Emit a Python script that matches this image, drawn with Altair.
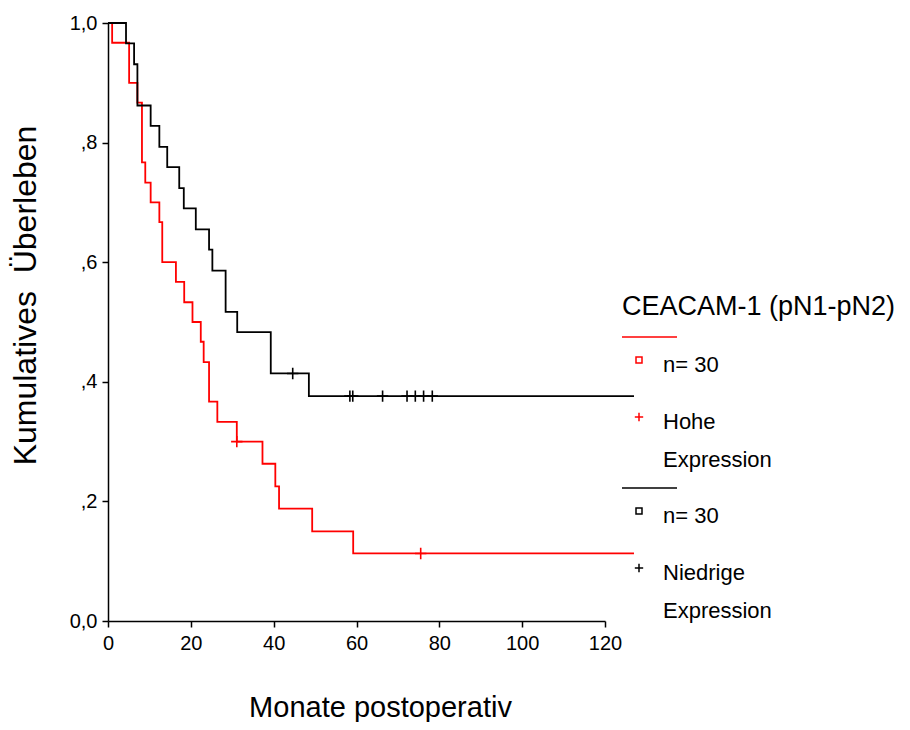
import altair as alt
import pandas as pd

# ---- data ----
groups = ["Hohe Expression", "Niedrige Expression"]
colors = ["#ff0000", "#000000"]

hohe_time = [0, 1.0, 5.1, 7.1, 8.2, 9.0, 10.3, 12.4, 13.1, 16.4, 18.4, 20.4, 22.4,
             23.1, 24.4, 26.4, 31.1, 37.3, 40.4, 41.3, 49.3, 59.2, 127]
hohe_surv = [1.0, 0.967, 0.900, 0.867, 0.767, 0.733, 0.700, 0.667, 0.600, 0.567, 0.533,
             0.500, 0.467, 0.433, 0.367, 0.333, 0.300, 0.263, 0.225, 0.188, 0.150,
             0.113, 0.113]
niedrig_time = [0, 4.35, 6.3, 7.1, 10.3, 12.4, 14.3, 17.2, 18.3, 21.2, 24.4, 25.2,
                28.4, 31.2, 39.3, 48.5, 127]
niedrig_surv = [1.0, 0.966, 0.931, 0.862, 0.828, 0.793, 0.759, 0.724, 0.690, 0.655,
                0.621, 0.586, 0.517, 0.483, 0.414, 0.376, 0.376]

hohe_cens_time = [31.1, 75.5]
hohe_cens_surv = [0.300, 0.113]
niedrig_cens_time = [44.6, 58.4, 59.1, 66.3, 72.2, 74.2, 76.2, 78.3]
niedrig_cens_surv = [0.414, 0.376, 0.376, 0.376, 0.376, 0.376, 0.376, 0.376]

x_ticks = [0, 20, 40, 60, 80, 100, 120]
y_ticks = [0.0, 0.2, 0.4, 0.6, 0.8, 1.0]

legend_title = "CEACAM-1 (pN1-pN2)"
legend_n = ["n= 30", "n= 30"]
legend_names = [["Hohe", "Expression"], ["Niedrige", "Expression"]]

FONT = "Liberation Sans"

# ---- tables ----
curves = pd.concat([
    pd.DataFrame({"group": groups[0], "time": hohe_time, "surv": hohe_surv}),
    pd.DataFrame({"group": groups[1], "time": niedrig_time, "surv": niedrig_surv}),
])
cens = pd.concat([
    pd.DataFrame({"group": groups[0], "time": hohe_cens_time, "surv": hohe_cens_surv}),
    pd.DataFrame({"group": groups[1], "time": niedrig_cens_time, "surv": niedrig_cens_surv}),
])

color = alt.Color("group:N", scale=alt.Scale(domain=groups, range=colors), legend=None)

x_enc = alt.X(
    "time:Q",
    scale=alt.Scale(domain=[0, 120], nice=False),
    axis=alt.Axis(
        values=x_ticks, title="Monate postoperativ", grid=False,
        tickSize=6, tickWidth=1.5, tickColor="black",
        domainColor="black", domainWidth=1.5,
        labelFont=FONT, labelFontSize=20, labelColor="black", labelPadding=6,
        labelFlush=False,
        titleFont=FONT, titleFontSize=29, titleFontWeight="normal", titleColor="black",
        titleX=272, titleY=86, titleAlign="center", titleBaseline="middle",
    ),
)
y_enc = alt.Y(
    "surv:Q",
    scale=alt.Scale(domain=[0, 1], nice=False),
    axis=alt.Axis(
        values=y_ticks, title="Kumulatives\u00a0 Überleben", grid=False,
        labelExpr="datum.value == 0 ? '0,0' : datum.value == 1 ? '1,0' : ',' + format(datum.value * 10, '.0f')",
        tickSize=6, tickWidth=1.5, tickColor="black",
        domainColor="black", domainWidth=1.5,
        labelFont=FONT, labelFontSize=20, labelColor="black", labelPadding=5,
        labelFlush=False,
        titleFont=FONT, titleFontSize=32, titleFontWeight="normal", titleColor="black",
        titleX=-83, titleY=272, titleAngle=270, titleAlign="center", titleBaseline="middle",
    ),
)

lines = alt.Chart(curves).mark_line(interpolate="step-after", strokeWidth=1.8).encode(
    x=x_enc, y=y_enc, color=color
)
marks = alt.Chart(cens).mark_point(
    shape="M0,-1L0,1M-1,0L1,0", filled=False, size=130, strokeWidth=1.6, opacity=1
).encode(x="time:Q", y="surv:Q", color=color)

# ---- custom legend (layout in pixels, right of plot) ----
LX = 514
leg_layers = [
    alt.Chart(pd.DataFrame({"t": [legend_title]})).mark_text(
        align="left", baseline="middle", font=FONT, fontSize=27, color="black"
    ).encode(text="t:N", x=alt.value(LX), y=alt.value(284)),
]
block_y = [314, 465]
for i, (g, c) in enumerate(zip(groups, colors)):
    y0 = block_y[i]
    leg_layers.append(
        alt.Chart(pd.DataFrame({"g": [g]})).mark_rule(color=c, strokeWidth=1.6).encode(
            x=alt.value(LX), x2=alt.value(LX + 55), y=alt.value(y0)
        )
    )
    leg_layers.append(
        alt.Chart(pd.DataFrame({"g": [g]})).mark_point(
            shape="square", filled=False, size=36, strokeWidth=1.5, color=c, opacity=1
        ).encode(x=alt.value(LX + 17), y=alt.value(y0 + 23))
    )
    leg_layers.append(
        alt.Chart(pd.DataFrame({"g": [g]})).mark_point(
            shape="M0,-1L0,1M-1,0L1,0", filled=False, size=70, strokeWidth=1.5, color=c, opacity=1
        ).encode(x=alt.value(LX + 17), y=alt.value(y0 + 80))
    )
    texts = [legend_n[i]] + legend_names[i]
    offs = [28, 85, 123]
    for t, o in zip(texts, offs):
        leg_layers.append(
            alt.Chart(pd.DataFrame({"t": [t]})).mark_text(
                align="left", baseline="middle", font=FONT, fontSize=22, color="black"
            ).encode(text="t:N", x=alt.value(LX + 41), y=alt.value(y0 + o))
        )

chart = alt.layer(lines, marks, *leg_layers).properties(
    width=497, height=598,
    autosize=alt.AutoSizeParams(type="none"),
    padding={"left": 100, "top": 15, "right": 297, "bottom": 101},
).configure(background="white").configure_view(strokeWidth=0, stroke="transparent")

chart.save("out.html", embed_options={"renderer": "svg", "actions": False})
